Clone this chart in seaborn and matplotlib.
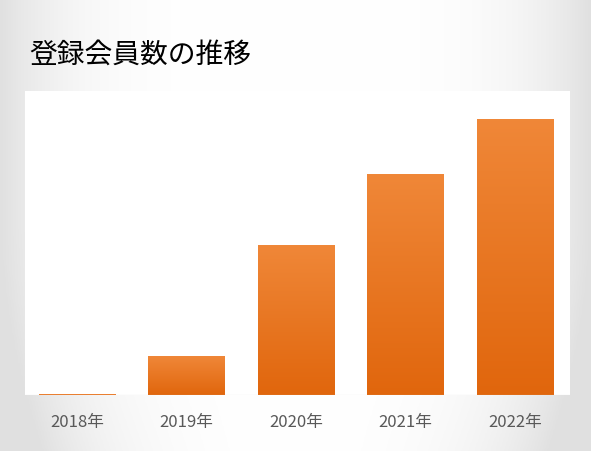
import matplotlib
matplotlib.use("Agg")
import matplotlib.pyplot as plt
import seaborn as sns
import numpy as np
import pandas as pd

years = ["2018年", "2019年", "2020年", "2021年", "2022年"]
members = [1, 39, 150, 221, 276]

sns.set_style("white")
plt.rcParams['font.family'] = ['Noto Sans CJK JP', 'DejaVu Sans']

fig = plt.figure(figsize=(5.91, 4.52), dpi=100)

# soft grey background
bg = fig.add_axes([0, 0, 1, 1], zorder=-10)
xx = np.linspace(-1, 1, 200)
yy = np.linspace(-1, 1, 200)
X, Y = np.meshgrid(xx, yy)
shade = 1.0 - 0.12 * np.clip(np.abs(X) ** 4 + 0.6 * np.clip(Y, 0, 1) ** 2 * np.abs(X) ** 2, 0, 1)
bg.imshow(np.dstack([shade] * 3), extent=[0, 1, 0, 1], aspect="auto")
bg.axis("off")

ax = fig.add_axes([0.042, 0.124, 0.922, 0.672])
df = pd.DataFrame({"year": years, "members": members})
sns.barplot(data=df, x="year", y="members", color="#ED7D31", width=0.7, ax=ax, saturation=1)

# vertical gradient on bars
grad = np.linspace(0, 1, 256).reshape(-1, 1)
c_top = np.array([0.94, 0.53, 0.22])
c_bot = np.array([0.88, 0.40, 0.05])
img = c_bot + (c_top - c_bot) * grad
img = img.reshape(256, 1, 3)
for p in ax.patches:
    x0, y0 = p.get_x(), p.get_y()
    w, h = p.get_width(), p.get_height()
    if h <= 0:
        continue
    im = ax.imshow(img, extent=[x0, x0 + w, y0, y0 + h], origin="lower", aspect="auto", zorder=3)
    im.set_clip_path(p)
    p.set_edgecolor("none")

ax.set_xlim(-0.475, 4.5)
ax.set_ylim(0, 304)
ax.set_facecolor("white")
ax.set_xlabel("")
ax.set_ylabel("")
ax.set_yticks([])
ax.tick_params(axis="x", length=0, labelsize=12, labelcolor="#595959", pad=13)
for s in ax.spines.values():
    s.set_visible(False)
ax.axhline(0, color="#d9d9d9", lw=0.8, zorder=4)

fig.text(0.05, 0.878, "登録会員数の推移", fontsize=20, color="black", va="center")

fig.savefig("out.png", dpi=100)
